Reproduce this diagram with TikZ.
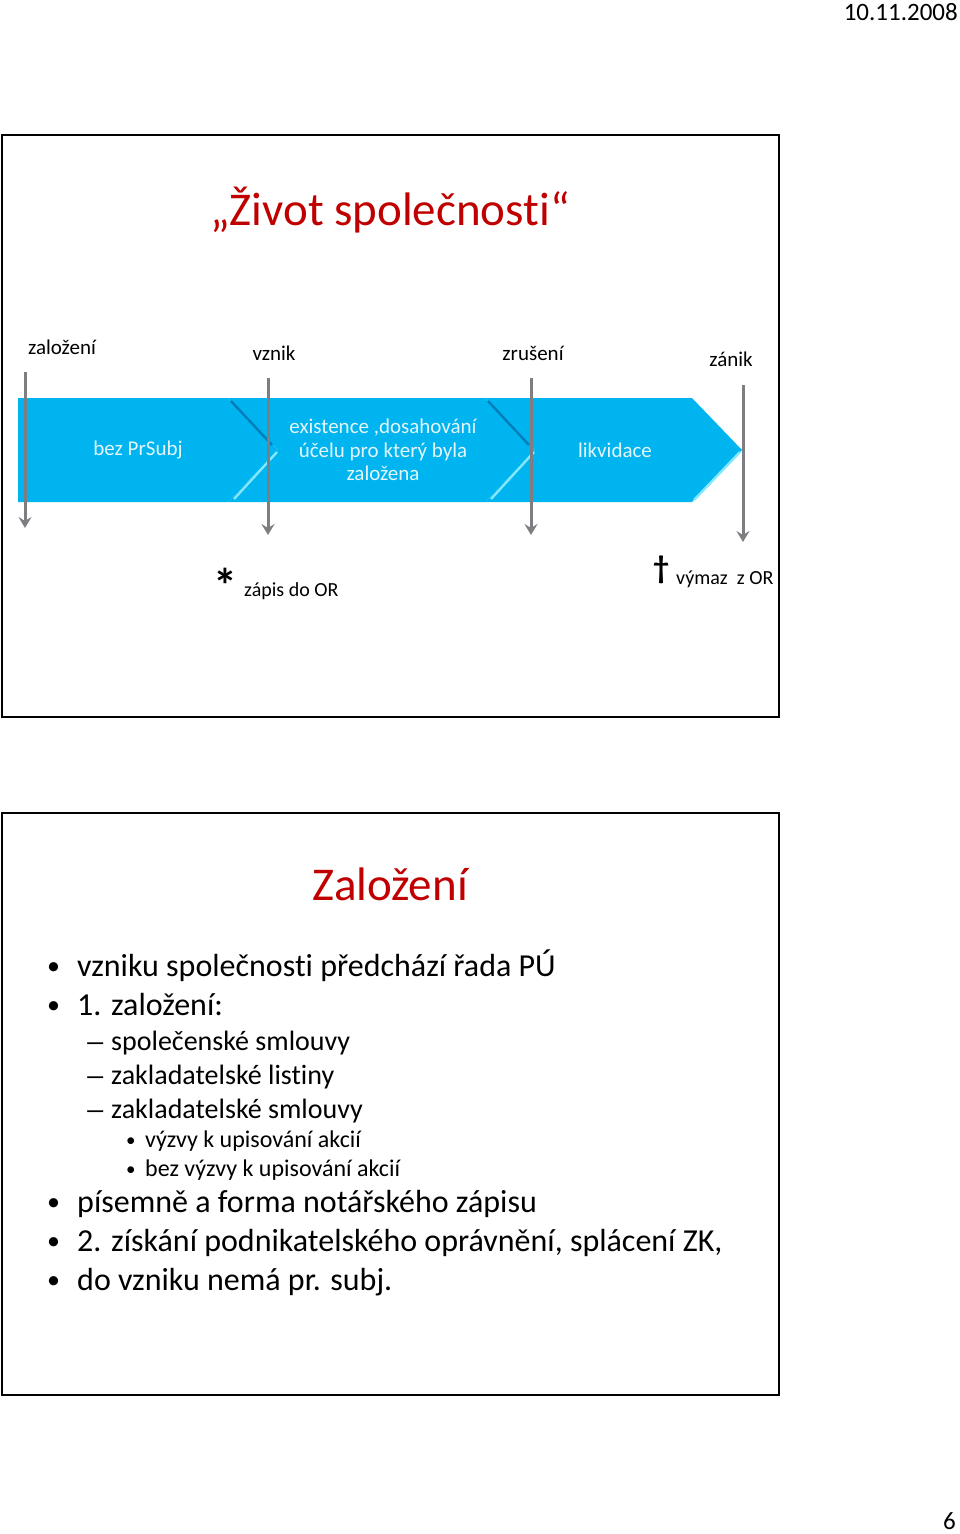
\documentclass[tikz,border=0pt]{standalone}
\usepackage{fontspec}
\setmainfont{Carlito}[Ligatures=NoCommon, RawFeature={-liga;-clig;-dlig;-calt}]
\usetikzlibrary{arrows.meta}
\definecolor{titlered}{RGB}{192,0,0}
\definecolor{procblue}{RGB}{0,180,240}
\definecolor{bevdark}{RGB}{0,125,185}
\definecolor{bevlight}{RGB}{130,232,255}
\definecolor{chevwhite}{RGB}{228,246,252}
\definecolor{arrgray}{RGB}{125,125,130}
\newcommand{\longdash}{\scalebox{1.6}[1]{–}}
\tikzset{
  slideframe/.style={draw=black, line width=2pt},
  slidetitle/.style={anchor=base, text=titlered, font=\fontsize{47}{52}\selectfont, inner sep=0pt},
  chevtext/.style={text=chevwhite, font=\fontsize{21}{23.5}\selectfont, align=center, inner sep=0pt},
  phase/.style={anchor=base, font=\fontsize{21}{24}\selectfont, inner sep=0pt},
  phasearrow/.style={draw=arrgray, line width=3pt, -{Stealth[length=11pt,width=13pt,inset=4pt]}},
  bevel/.style={line width=2.4pt},
  itemA/.style={anchor=base west, font=\fontsize{32}{36}\selectfont, inner sep=0pt},
  itemB/.style={anchor=base west, font=\fontsize{28}{32}\selectfont, inner sep=0pt},
  itemC/.style={anchor=base west, font=\fontsize{24}{28}\selectfont, inner sep=0pt},
  dotA/.style={anchor=base west, font=\fontsize{26}{30}\selectfont, inner sep=0pt},
  dotC/.style={anchor=base west, font=\fontsize{19}{22}\selectfont, inner sep=0pt}
}
\begin{document}
\begin{tikzpicture}[x=1pt,y=-1pt]
\useasboundingbox (0,0) rectangle (960,1534);
\node[anchor=base east, font=\fontsize{25}{28}\selectfont, inner sep=0pt] (date) at (958,20) {10.11.2008};
\node[anchor=base east, font=\fontsize{25}{28}\selectfont, inner sep=0pt] (pagenum) at (956,1529) {6};

% slide 1: timeline
\draw[slideframe] (2,135) rectangle (779,717);
\node[slidetitle] (title1) at (390,225) {„Život společnosti“};

\fill[procblue] (18,398) -- (228,398) -- (278,450) -- (228,502) -- (18,502) -- cycle;
\fill[procblue] (228,398) -- (485,398) -- (535,450) -- (485,502) -- (228,502) -- (278,450) -- cycle;
\fill[procblue] (485,398) -- (692,398) -- (742,450) -- (692,502) -- (485,502) -- (535,450) -- cycle;
\draw[bevel, bevdark] (231,401) -- (272,445);
\draw[bevel, bevlight] (277,452) -- (234,499);
\draw[bevel, bevdark] (488,401) -- (529,445);
\draw[bevel, bevlight] (534,452) -- (491,499);
\draw[bevel, bevlight] (740,452) -- (694,500);

\node[chevtext] (pre) at (138,450) {bez PrSubj};
\node[chevtext] (exist) at (383,450) {existence ,dosahování\\účelu pro který byla\\založena};
\node[chevtext] (likv) at (615,450) {likvidace};

\node[phase] (zalozeni) at (62,354) {založení};
\node[phase] (vznik) at (274,360) {vznik};
\node[phase] (zruseni) at (533,360) {zrušení};
\node[phase] (zanik) at (731,366) {zánik};

\coordinate (a1) at (25,372);  \coordinate (b1) at (25,528);
\coordinate (a2) at (268,378); \coordinate (b2) at (268,535);
\coordinate (a3) at (531,378); \coordinate (b3) at (531,535);
\coordinate (a4) at (743,385); \coordinate (b4) at (743,542);
\draw[phasearrow] (a1) -- (b1);
\draw[phasearrow] (a2) -- (b2);
\draw[phasearrow] (a3) -- (b3);
\draw[phasearrow] (a4) -- (b4);

\node[anchor=base, font=\fontsize{48}{52}\selectfont\bfseries, inner sep=0pt] (star) at (225,602) {*};
\node[anchor=base west, font=\fontsize{20}{24}\selectfont, inner sep=0pt] (zapis) at (244,596) {zápis do OR};
\node[anchor=base, font=\fontsize{32}{36}\selectfont\bfseries, inner sep=0pt] (cross) at (661,578) {†};
\node[anchor=base west, font=\fontsize{20}{24}\selectfont, inner sep=0pt] (vymaz) at (676,584) {výmaz\ \ z OR};

% slide 2: zalozeni
\draw[slideframe] (2,813) rectangle (779,1395);
\node[slidetitle] (title2) at (390,900) {Založení};

\node[dotA] (i1) at (47,974) {•};
\node[itemA] (t1) at (77,976) {vzniku společnosti předchází řada PÚ};
\node[dotA] (i2) at (47,1013) {•};
\node[itemA] (t2) at (77,1015) {1. založení:};
\node[itemB] (d1) at (84,1051) {\longdash};
\node[itemB] (u1) at (111,1050) {společenské smlouvy};
\node[itemB] (d2) at (84,1085) {\longdash};
\node[itemB] (u2) at (111,1084) {zakladatelské listiny};
\node[itemB] (d3) at (84,1119) {\longdash};
\node[itemB] (u3) at (111,1118) {zakladatelské smlouvy};
\node[dotC] (e1) at (126,1146) {•};
\node[itemC] (v1) at (145,1147) {výzvy k upisování akcií};
\node[dotC] (e2) at (126,1175) {•};
\node[itemC] (v2) at (145,1176) {bez výzvy k upisování akcií};
\node[dotA] (i3) at (47,1210) {•};
\node[itemA] (t3) at (77,1212) {písemně a forma notářského zápisu};
\node[dotA] (i4) at (47,1249) {•};
\node[itemA] (t4) at (77,1251) {2. získání podnikatelského oprávnění, splácení ZK,};
\node[dotA] (i5) at (47,1288) {•};
\node[itemA] (t5) at (77,1290) {do vzniku nemá pr. subj.};
\end{tikzpicture}
\end{document}
